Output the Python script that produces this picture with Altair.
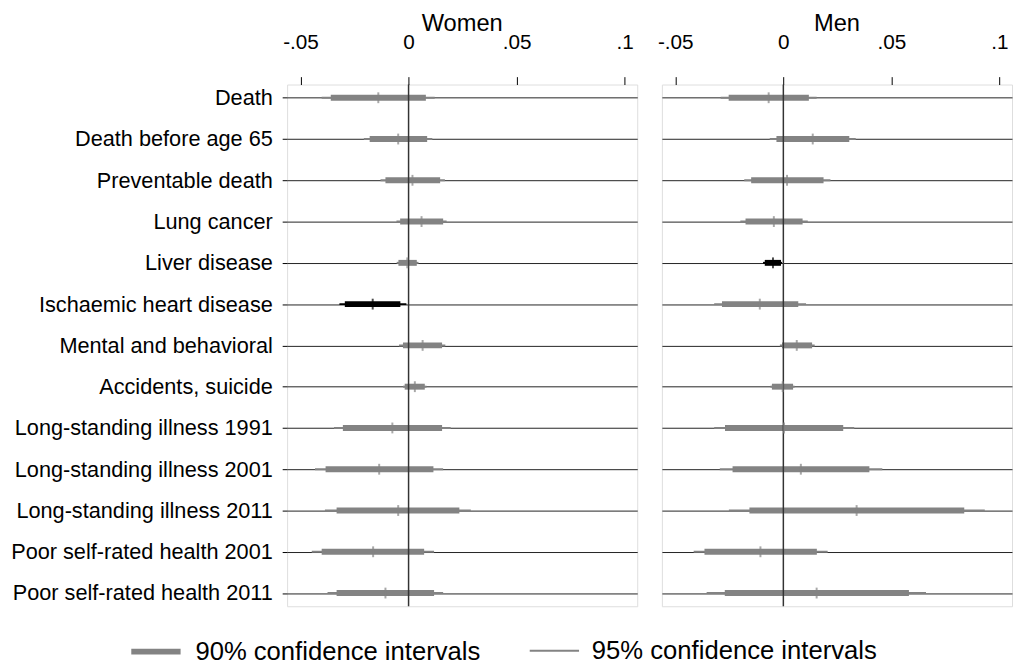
import altair as alt
import pandas as pd

outcomes = [
    "Death", "Death before age 65", "Preventable death", "Lung cancer",
    "Liver disease", "Ischaemic heart disease", "Mental and behavioral",
    "Accidents, suicide", "Long-standing illness 1991",
    "Long-standing illness 2001", "Long-standing illness 2011",
    "Poor self-rated health 2001", "Poor self-rated health 2011",
]
levels = ["90% confidence intervals", "95% confidence intervals"]
panels = ["Women", "Men"]

women_est = [-0.014, -0.0048, 0.0018, 0.006, -0.0006, -0.0166, 0.0065, 0.0029, -0.0075, -0.0136, -0.0048, -0.0164, -0.0107]
women_lo90 = [-0.036, -0.018, -0.0107, -0.0039, -0.0047, -0.0295, -0.0026, -0.0018, -0.0304, -0.0384, -0.0333, -0.0402, -0.0333]
women_hi90 = [0.008, 0.0086, 0.0146, 0.016, 0.0038, -0.0038, 0.0155, 0.0075, 0.0155, 0.0115, 0.0235, 0.0072, 0.0118]
women_lo95 = [-0.0402, -0.0207, -0.0130, -0.0056, -0.0055, -0.032, -0.0044, -0.0026, -0.0345, -0.0433, -0.0387, -0.0448, -0.0375]
women_hi95 = [0.0121, 0.011, 0.0168, 0.0176, 0.0046, -0.001, 0.017, 0.0083, 0.0195, 0.016, 0.0288, 0.0118, 0.016]
women_sig = ["no", "no", "no", "no", "no", "yes", "no", "no", "no", "no", "no", "no", "no"]

men_est = [-0.0068, 0.0136, 0.0017, -0.0044, -0.0048, -0.0109, 0.0062, -0.0003, 0.0003, 0.0081, 0.0339, -0.0106, 0.0154]
men_lo90 = [-0.0253, -0.0032, -0.0149, -0.0175, -0.0086, -0.0284, -0.0006, -0.0053, -0.027, -0.0235, -0.0157, -0.0365, -0.0271]
men_hi90 = [0.0118, 0.0305, 0.0186, 0.0089, -0.0011, 0.0069, 0.0133, 0.0045, 0.0277, 0.0398, 0.0837, 0.0155, 0.0581]
men_lo95 = [-0.029, -0.0063, -0.0181, -0.0199, -0.0094, -0.032, -0.0016, -0.0060, -0.0320, -0.0294, -0.0252, -0.0415, -0.0355]
men_hi95 = [0.0154, 0.0335, 0.0218, 0.0113, -0.0006, 0.0105, 0.0145, 0.0052, 0.0328, 0.0458, 0.0932, 0.0205, 0.066]
men_sig = ["no", "no", "no", "no", "yes", "no", "no", "no", "no", "no", "no", "no", "no"]

series = {
    "Women": (women_est, women_lo90, women_hi90, women_lo95, women_hi95, women_sig),
    "Men": (men_est, men_lo90, men_hi90, men_lo95, men_hi95, men_sig),
}

FONT = "Liberation Sans"


def build(panel, first):
    est, lo90, hi90, lo95, hi95, sig = series[panel]
    ci_rows = []
    for i, o in enumerate(outcomes):
        ci_rows.append(dict(outcome=o, level=levels[1], lo=lo95[i], hi=hi95[i], sig=sig[i]))
    for i, o in enumerate(outcomes):
        ci_rows.append(dict(outcome=o, level=levels[0], lo=lo90[i], hi=hi90[i], sig=sig[i]))
    ci_df = pd.DataFrame(ci_rows)
    pt_df = pd.DataFrame(dict(outcome=outcomes, est=est, sig=sig))
    zero_df = pd.DataFrame(dict(x=[0.0]))

    xscale = alt.Scale(domain=[-0.0562, 0.1058], nice=False, zero=False)
    xaxis = alt.Axis(
        orient="top", values=[-0.05, 0, 0.05, 0.1],
        labelExpr="(datum.value < 0 ? '-' : '') + replace(format(abs(datum.value), '.2~f'), '0.', '.')",
        tickSize=8, tickColor="black", labelPadding=25, domain=False,
        grid=False, title=None, labelFontSize=21, labelColor="black",
        labelFont=FONT,
    )
    if first:
        yaxis = alt.Axis(
            title=None, domain=False, grid=True, gridColor="#222", gridWidth=1,
            tickSize=5, tickColor="black", labelPadding=10, labelFontSize=22,
            labelLimit=500, labelColor="black", labelFont=FONT,
        )
    else:
        yaxis = alt.Axis(
            title=None, domain=False, grid=True, gridColor="#222", gridWidth=1,
            labels=False, ticks=False,
        )
    y = alt.Y("outcome:N", sort=outcomes,
              scale=alt.Scale(type="point", padding=0.32), axis=yaxis)
    color = alt.Color("sig:N", scale=alt.Scale(domain=["no", "yes"], range=["#838383", "#000000"]),
                      legend=None)

    ci = alt.Chart(ci_df).mark_rule().encode(
        x=alt.X("lo:Q", scale=xscale, axis=xaxis),
        x2="hi:Q",
        y=y,
        color=color,
        strokeWidth=alt.StrokeWidth(
            "level:N",
            scale=alt.Scale(domain=levels, range=[6, 2]),
            legend=alt.Legend(
                title=None, orient="none", direction="horizontal",
                legendX=-161, legendY=547,
                symbolType="stroke", symbolSize=2500, symbolStrokeColor="#838383",
                labelFontSize=26, labelLimit=600, labelFont=FONT, labelColor="black",
                columnPadding=45, labelOffset=12,
            ),
        ),
    )
    zero = alt.Chart(zero_df).mark_rule(color="#333333", strokeWidth=1.5).encode(
        x=alt.X("x:Q", scale=xscale, axis=xaxis)
    )
    pts = alt.Chart(pt_df).mark_tick(thickness=2, size=11).encode(
        x=alt.X("est:Q", scale=xscale, axis=xaxis),
        y=y,
        color=color,
    )
    return alt.layer(ci, zero, pts).properties(
        width=355, height=529,
        title=alt.TitleParams(panel, fontSize=24, fontWeight="normal", anchor="middle",
                              offset=-5, color="black", font=FONT),
    )


chart = alt.hconcat(build("Women", True), build("Men", False), spacing=18).resolve_scale(
    color="shared", strokeWidth="shared"
).resolve_legend(strokeWidth="shared").properties(
    padding={"left": 2, "top": -1, "right": 0, "bottom": 0}
).configure_view(
    stroke="#333333", strokeWidth=1.5
).configure(
    font=FONT, background="white"
)

chart.save("out.html", embed_options={"renderer": "svg", "actions": False})
